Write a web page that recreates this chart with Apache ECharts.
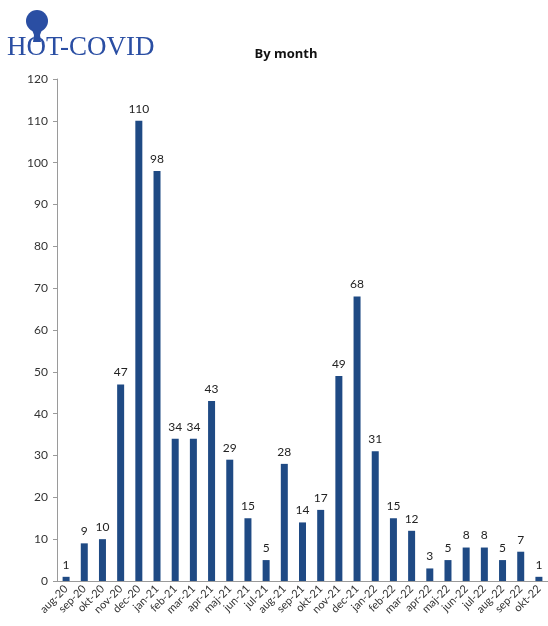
<!DOCTYPE html>
<html><head><meta charset="utf-8">
<script src="https://cdn.jsdelivr.net/npm/echarts@6/dist/echarts.min.js"></script>
<style>html,body{margin:0;padding:0;background:#fff}#c{width:548px;height:626px}</style>
</head><body><div id="c"></div>
<script>
const months = ['aug-20','sep-20','okt-20','nov-20','dec-20','jan-21','feb-21','mar-21','apr-21','maj-21','jun-21','jul-21','aug-21','sep-21','okt-21','nov-21','dec-21','jan-22','feb-22','mar-22','apr-22','maj-22','jun-22','jul-22','aug-22','sep-22','okt-22'];
const counts = [1,9,10,47,110,98,34,34,43,29,15,5,28,14,17,49,68,31,15,12,3,5,8,8,5,7,1];
const chartTitle = 'By month';
const logoText = 'HOT-COVID';

const chart = echarts.init(document.getElementById('c'), null, {renderer:'canvas'});
const blue = '#1f4a84';
const logoBlue = '#2a4ea3';
chart.setOption({
  animation:false,
  title:{text:chartTitle,left:281,top:43,textAlign:'center',textStyle:{fontFamily:'Open Sans',fontWeight:'bold',fontSize:13,color:'#111'}},
  grid:{left:57,right:-3,top:79,bottom:45},
  xAxis:{type:'category',data:months,
    axisLine:{lineStyle:{color:'#9a9a9a'}},
    axisTick:{show:false},
    axisLabel:{rotate:45,interval:0,margin:6,fontFamily:'Lato',fontSize:11,color:'#333'}},
  yAxis:{type:'value',min:0,max:120,interval:10,
    axisLine:{show:true,lineStyle:{color:'#9a9a9a'}},
    axisTick:{show:true,length:4,lineStyle:{color:'#9a9a9a'}},
    splitLine:{show:false},
    axisLabel:{margin:9,fontFamily:'Lato',fontSize:12,color:'#333'}},
  series:[{type:'bar',data:counts,barWidth:7,itemStyle:{color:blue},
    label:{show:true,position:'top',distance:6,fontFamily:'Lato',fontSize:12,color:'#222'}}],
  graphic:[
    {type:'circle',shape:{cx:37,cy:21,r:11},style:{fill:logoBlue}},
    {type:'polygon',shape:{points:[[31,27],[43,27],[40,35],[41,42],[33,42],[34,35]]},style:{fill:logoBlue}},
    {type:'text',left:7,top:34,style:{text:logoText,font:'27px "Liberation Serif"',fill:logoBlue}}
  ]
});
</script></body></html>
